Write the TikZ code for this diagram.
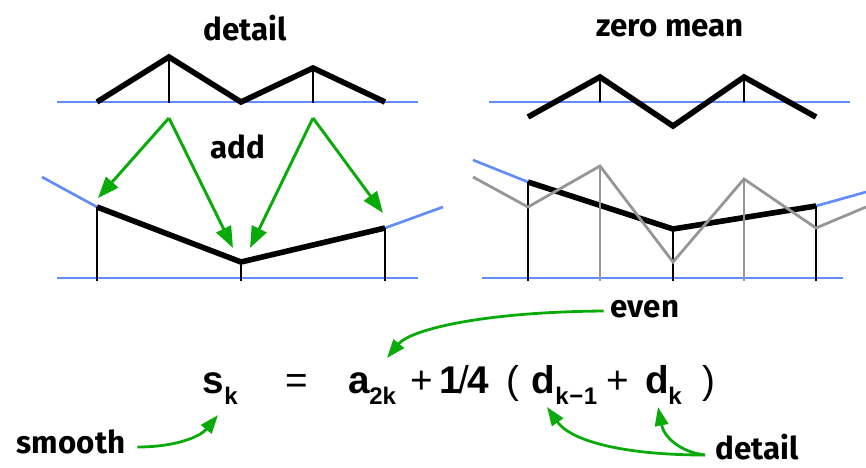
\documentclass[tikz,border=0pt]{standalone}
\usepackage{fontspec}
\usetikzlibrary{arrows.meta}
\newfontfamily\lblfont{Fira Sans}
\newfontfamily\eqfont{Liberation Sans}
\definecolor{bl}{RGB}{98,140,250}
\definecolor{gr}{RGB}{10,170,10}
\definecolor{gy}{RGB}{150,150,150}
\begin{document}
\begin{tikzpicture}[x=0.75pt,y=-0.75pt,
  thickline/.style={line width=4.2pt,black,line join=miter},
  thinline/.style={line width=1.8pt,black},
  blueline/.style={line width=2pt,bl},
  grayline/.style={line width=2.1pt,gy,line join=miter},
  grayvert/.style={line width=1.8pt,gy},
  garrow/.style={line width=2.2pt,gr,-{Triangle[length=16pt,width=12pt]}},
  garrows/.style={line width=2.1pt,gr,-{Triangle[length=14pt,width=10pt]}},
  lbl/.style={font=\lblfont\bfseries\fontsize{23.5}{28}\selectfont,inner sep=0pt},
  eqb/.style={font=\eqfont\bfseries\fontsize{29}{32}\selectfont,inner sep=0pt,anchor=base west},
  eqr/.style={font=\eqfont\fontsize{29}{32}\selectfont,inner sep=0pt,anchor=base west},
  eqs/.style={font=\eqfont\bfseries\fontsize{18}{22}\selectfont,inner sep=0pt,anchor=base west}]
\useasboundingbox (0,0) rectangle (866,467);

% ---------- labels ----------
\node[lbl] (tdetail) at (245,28) {detail};
\node[lbl] (tzero) at (670,28) {zero mean};
\node[lbl] (tadd) at (238,147) {add};

% ---------- top left: detail ----------
\coordinate (L1) at (97,102);
\coordinate (L2) at (169,57);
\coordinate (L3) at (241,102);
\coordinate (L4) at (313,68);
\coordinate (L5) at (385,102);
\draw[blueline] (57,102) coordinate (lb0) -- (418,102) coordinate (lb1);
\draw[thinline] (L2) -- (169,103) coordinate (L2b);
\draw[thinline] (L4) -- (313,103) coordinate (L4b);
\draw[thickline] (L1) -- (L2) -- (L3) -- (L4) -- (L5);

% ---------- bottom left: smooth + add ----------
\coordinate (B1) at (97,207);
\coordinate (B3) at (241,262);
\coordinate (B5) at (385,228);
\coordinate (Be0) at (42,177);
\coordinate (Be6) at (443,207);
\draw[blueline] (57,278) coordinate (bb0) -- (418,278) coordinate (bb1);
\draw[blueline] (Be0) -- (B1);
\draw[blueline] (B5) -- (Be6);
\draw[thinline] (B1) -- (97,281) coordinate (B1b);
\draw[thinline] (B3) -- (241,281) coordinate (B3b);
\draw[thinline] (B5) -- (385,281) coordinate (B5b);
\draw[thickline] (B1) -- (B3) -- (B5);

% green arrows
\coordinate (A1) at (169,118);
\coordinate (A2) at (313,118);
\coordinate (T1) at (98,198);
\coordinate (T2) at (233,248);
\coordinate (T3) at (250,248);
\coordinate (T4) at (383,213);
\draw[garrow] (A1) -- (T1);
\draw[garrow] (A1) -- (T2);
\draw[garrow] (A2) -- (T3);
\draw[garrow] (A2) -- (T4);

% ---------- top right: zero mean ----------
\coordinate (R1) at (528,117);
\coordinate (R2) at (600,77);
\coordinate (R3) at (673,126);
\coordinate (R4) at (744,77);
\coordinate (R5) at (816,117);
\draw[blueline] (489,102) coordinate (rb0) -- (850,102) coordinate (rb1);
\draw[thinline] (R2) -- (600,102) coordinate (R2b);
\draw[thinline] (R4) -- (744,102) coordinate (R4b);
\draw[thickline] (R1) -- (R2) -- (R3) -- (R4) -- (R5);

% ---------- bottom right ----------
\coordinate (S1) at (528,182);
\coordinate (S3) at (673,229);
\coordinate (S5) at (816,206);
\coordinate (Se0) at (473,160);
\coordinate (Se6) at (866,192);
\draw[blueline] (482,278) coordinate (sb0) -- (843,278) coordinate (sb1);
\draw[blueline] (Se0) -- (S1);
\draw[blueline] (S5) -- (Se6);
\draw[thinline] (S1) -- (528,281) coordinate (S1b);
\draw[thinline] (S3) -- (673,281) coordinate (S3b);
\draw[thinline] (S5) -- (816,281) coordinate (S5b);
\draw[thickline] (S1) -- (S3) -- (S5);
\coordinate (G0) at (473,177);
\coordinate (G1) at (528,207);
\coordinate (G2) at (600,166);
\coordinate (G3) at (673,262);
\coordinate (G4) at (744,179);
\coordinate (G5) at (816,228);
\coordinate (G6) at (866,207);
\draw[grayvert] (G2) -- (600,281) coordinate (G2b);
\draw[grayvert] (G4) -- (744,281) coordinate (G4b);
\draw[grayline] (G0) -- (G1) -- (G2) -- (G3) -- (G4) -- (G5) -- (G6);

% ---------- formula ----------
\node[eqb] (s) at (202,393) {s};
\node[eqs] (sk) at (224,404) {k};
\node[eqr] (eq) at (285,393) {=};
\node[eqb] (a) at (348,393) {a};
\node[eqs] (a2k) at (369,404) {2k};
\node[eqr] (p1) at (410,393) {+};
\node[eqb] (quarter) at (439,393) {1\kern-1.5pt{\mdseries/}\kern-1.5pt4};
\node[eqr] (lp) at (506,393) {(};
\node[eqb] (d1) at (531,393) {d};
\node[eqs] (d1k) at (555,404) {k\kern0.5pt\textminus\kern0.5pt1};
\node[eqr] (p2) at (606,393) {+};
\node[eqb] (d2) at (645,393) {d};
\node[eqs] (d2k) at (668,404) {k};
\node[eqr] (rp) at (702,393) {)};

% ---------- bottom labels ----------
\node[lbl] (smooth) at (71,442) {smooth};
\node[lbl] (even) at (645,309) {even};
\node[lbl] (bdetail) at (757,447) {detail};

\coordinate (ts) at (218,415);
\coordinate (te) at (387,358);
\coordinate (td1) at (547,407);
\coordinate (td2) at (658,407);
\coordinate (sd) at (705,455);
\draw[garrows] (smooth.east) ++(12,5) .. controls (175,447) and (200,437) .. (ts);
\draw[garrows] (even.west) ++(-7,2) .. controls (480,312) and (410,330) .. (te);
\draw[garrows] (sd) .. controls (620,455) and (570,440) .. (td1);
\draw[garrows] (sd) .. controls (680,452) and (664,437) .. (td2);
\end{tikzpicture}
\end{document}
